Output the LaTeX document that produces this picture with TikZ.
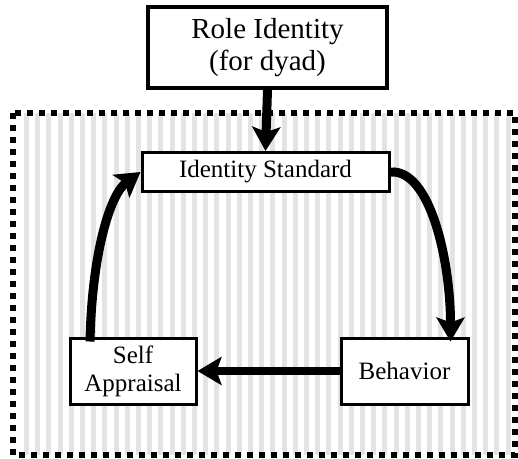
\documentclass[tikz,border=0pt]{standalone}
\usepackage{fontspec}
\setmainfont{Liberation Serif}
\usetikzlibrary{arrows.meta}

\begin{document}
\begin{tikzpicture}[x=1pt,y=-1pt,
    box/.style={draw,line width=3pt,fill=white,align=center,inner sep=2pt,
      font=\fontsize{25pt}{28pt}\selectfont},
    flow/.style={line width=9pt,-{Stealth[length=24pt,width=28pt,inset=5pt]}},
    stripe/.style={fill=gray!22}]
   \useasboundingbox[fill=white] (0,0) rectangle (518,458);
   % striped frame
   \begin{scope}
    \clip (13,113) rectangle (515,455);
    \foreach \k in {0,...,45}
      \fill[stripe] ({24+11.2*\k},113) rectangle ++(5,342);
   \end{scope}
   \draw[line width=6pt,dash pattern=on 6pt off 6pt] (13,113) rectangle (515,455);
   % boxes
   \node[box,line width=4pt,minimum width=239pt,minimum height=81pt,
     font=\fontsize{29pt}{32pt}\selectfont] (role) at (267.5,47.5) {Role Identity\\(for dyad)};
   \node[box,minimum width=247pt,minimum height=39pt] (standard) at (265.5,172) {Identity Standard};
   \node[box,minimum width=126pt,minimum height=66pt] (appraisal) at (133,371) {Self\\Appraisal};
   \node[box,minimum width=127pt,minimum height=66pt] (behavior) at (404.5,371) {Behavior};
   % arrows
   \draw[flow] (role.south) -- (standard.north);
   \draw[flow,line width=8pt] (behavior.west) -- (appraisal.east);
   \draw[flow] (standard.east) .. controls +(40,-3) and +(0,-80) .. ([xshift=46pt,yshift=-5pt]behavior.north);
   \draw[flow] ([xshift=-43pt,yshift=-5pt]appraisal.north) .. controls +(2,-90) and +(-30,22) .. (standard.west);
\end{tikzpicture}
\end{document}
